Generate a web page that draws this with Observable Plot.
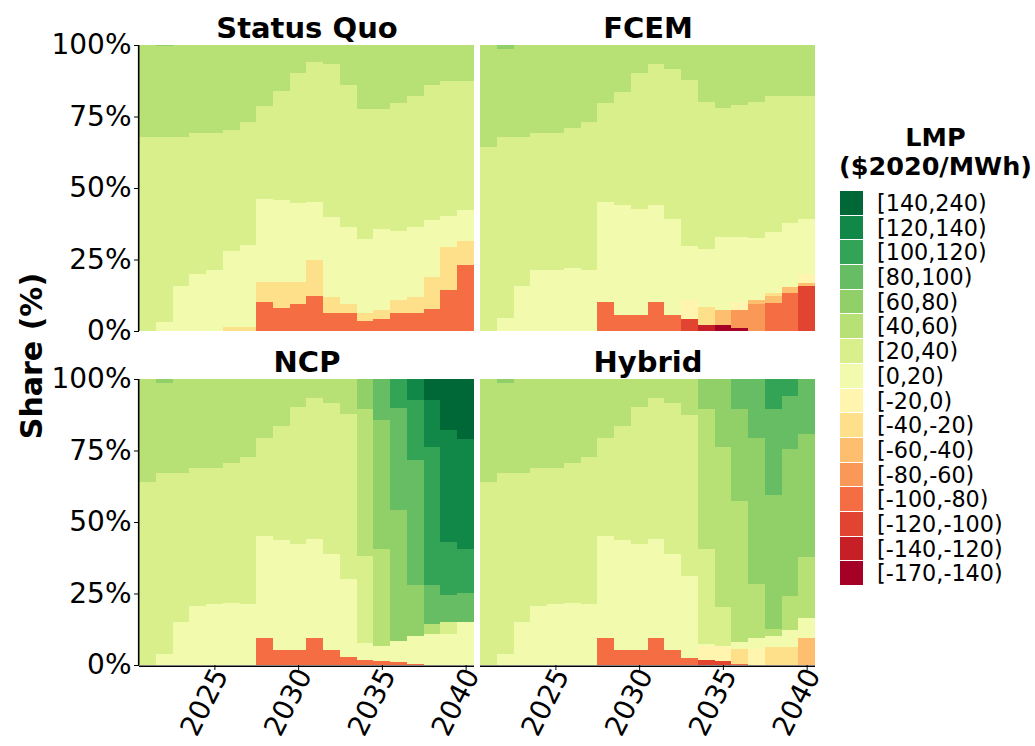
<!DOCTYPE html>
<html><head><meta charset="utf-8">
<script src="https://cdn.jsdelivr.net/npm/d3@7"></script>
<script src="https://cdn.jsdelivr.net/npm/@observablehq/plot@0.6"></script>
<style>
body{margin:0;background:#fff;font-family:"DejaVu Sans",sans-serif;}
#wrap{position:relative;width:1035px;height:746px;overflow:hidden;background:#fff;}
#chart{position:absolute;left:0;top:0;}
#ylab{position:absolute;left:31px;top:356px;transform:translate(-50%,-50%) rotate(-90deg);font-weight:bold;font-size:30px;white-space:nowrap;color:#000;}
#legend{position:absolute;left:834px;top:123px;width:203px;color:#000;}
#legend .lt{font-weight:bold;font-size:25.5px;line-height:29px;text-align:center;}
#items{position:absolute;left:6px;top:68px;}
.row{display:flex;align-items:center;height:24.7px;}
.sw{width:23px;height:23.7px;margin-bottom:1px;}
.lab{margin-left:14px;font-size:22.3px;line-height:24.7px;white-space:nowrap;}
</style></head>
<body>
<div id="wrap"><div id="chart"></div><div id="ylab">Share (%)</div>
<div id="legend"><div class="lt">LMP<br>($2020/MWh)</div><div id="items"></div></div></div>
<script>
const years = [2021,2022,2023,2024,2025,2026,2027,2028,2029,2030,2031,2032,2033,2034,2035,2036,2037,2038,2039,2040];
const bins = ["[-170,-140)","[-140,-120)","[-120,-100)","[-100,-80)","[-80,-60)","[-60,-40)","[-40,-20)","[-20,0)","[0,20)","[20,40)","[40,60)","[60,80)","[80,100)","[100,120)","[120,140)","[140,240)"];
const binColors = ["#a50026","#c62026","#e14430","#f46d43","#fa9857","#fdbf6f","#fee08b","#fff5ae","#f2faae","#d9ef8b","#b7e075","#91d069","#66bd63","#33a456","#118848","#006837"];
const scenarios = ["Status Quo","FCEM","NCP","Hybrid"];

const statusQuo = {
  "[60,80)":    [0,0.4,0,0,0,0,0,0,0,0,0,0,0,0,0,0,0,0,0,0],
  "[40,60)":    [32.2,31.8,32.2,30.9,30.9,29.7,27.0,21.4,16.2,9.8,6.0,6.7,14.0,22.3,22.3,20.2,17.9,14.0,12.6,12.6],
  "[20,40)":    [67.8,64.5,52.2,49.3,47.8,42.6,43.1,32.3,38.1,45.5,48.7,53.3,49.9,45.7,42.2,44.7,45.9,47.4,47.1,45.0],
  "[0,20)":     [0,3.3,15.6,19.8,21.3,26.4,28.5,29.3,28.4,27.4,20.2,28.1,26.9,25.8,28.3,24.4,24.3,19.9,11.0,11.0],
  "[-40,-20)":  [0,0,0,0,0,1.4,1.4,7.0,9.4,8.0,12.9,5.7,3.1,2.8,3.1,4.5,5.7,11.2,15.1,8.4],
  "[-100,-80)": [0,0,0,0,0,0,0,10.0,7.9,9.3,12.1,6.2,6.2,3.4,4.1,6.2,6.2,7.6,14.2,23.0]
};
const fcem = {
  "[60,80)":     [0,1.4,0,0,0,0,0,0,0,0,0,0,0,0,0,0,0,0,0,0],
  "[40,60)":     [35.7,30.8,32.2,30.8,30.8,29.1,27.0,20.2,16.4,9.8,6.6,8.4,12.3,20.2,22.3,21.0,19.9,17.9,17.9,17.9],
  "[20,40)":     [64.3,63.4,52.2,47.7,47.9,48.7,51.5,34.5,39.7,47.7,49.2,52.7,58.1,51.3,45.0,46.3,47.8,47.6,44.4,43.1],
  "[0,20)":      [0,4.4,15.6,21.5,21.3,22.2,21.5,35.2,38.3,36.9,34.2,33.3,18.7,20.1,25.5,22.8,21.6,21.4,22.2,19.2],
  "[-20,0)":     [0,0,0,0,0,0,0,0,0,0,0,0,6.7,0,0,2.7,0,0,0,3.1],
  "[-40,-20)":   [0,0,0,0,0,0,0,0,0,0,0,0,0,6.4,0,0,0,0.9,0,0],
  "[-60,-40)":   [0,0,0,0,0,0,0,0,0,0,0,0,0,0,5.2,0,1.2,2.4,2.3,1.0],
  "[-80,-60)":   [0,0,0,0,0,0,0,0,0,0,0,0,0,0,0,6.4,9.6,0,0,0],
  "[-100,-80)":  [0,0,0,0,0,0,0,10.0,5.7,5.7,10.0,5.7,0,0,0,0,0,9.9,13.2,0],
  "[-120,-100)": [0,0,0,0,0,0,0,0,0,0,0,0,4.2,0,0,0,0,0,0,15.7],
  "[-140,-120)": [0,0,0,0,0,0,0,0,0,0,0,0,0,2.1,0,0,0,0,0,0],
  "[-170,-140)": [0,0,0,0,0,0,0,0,0,0,0,0,0,0,2.1,0.9,0,0,0,0]
};
const ncp = {
  "[140,240)":  [0,0,0,0,0,0,0,0,0,0,0,0,0,0,0,0,0,7.3,18.0,20.9],
  "[120,140)":  [0,0,0,0,0,0,0,0,0,0,0,0,0,0,0,0,7.3,16.6,39.0,38.6],
  "[100,120)":  [0,0,0,0,0,0,0,0,0,0,0,0,0,0,0,10.4,21.0,48.3,18.7,15.2],
  "[80,100)":   [0,0,0,0,0,0,0,0,0,0,0,0,0,0,14.3,35.5,43.7,13.7,9.4,10.3],
  "[60,80)":    [0,1.5,0,0,0,0,0,0,0,0,0,0,0,10.4,45.3,45.8,17.7,0,0,0],
  "[40,60)":    [36.0,31.4,32.9,31.2,31.2,29.4,27.2,20.6,16.6,9.9,6.8,8.5,12.4,51.5,33.9,0,0,3.5,0,0],
  "[20,40)":    [64.0,63.2,51.9,48.0,47.6,48.9,51.6,34.4,39.7,47.9,49.3,52.8,57.4,30.3,0,0,0,0,4.3,0],
  "[0,20)":     [0,3.9,15.1,20.8,21.2,21.6,21.2,35.5,38.5,37.0,34.4,33.5,27.4,5.8,5.3,7.4,9.8,10.7,10.7,15.0],
  "[-100,-80)": [0,0,0,0,0,0,0,9.5,5.2,5.2,9.5,5.2,2.8,1.9,1.3,1.0,0.5,0,0,0]
};
const hybrid = {
  "[100,120)":   [0,0,0,0,0,0,0,0,0,0,0,0,0,0,0,0,0,10.4,5.7,0],
  "[80,100)":    [0,0,0,0,0,0,0,0,0,0,0,0,0,0,0,10.4,20.6,30.3,18.7,19.2],
  "[60,80)":     [0,1.5,0,0,0,0,0,0,0,0,0,0,0,10.4,23.8,32.1,51.2,46.6,51.2,43.2],
  "[40,60)":     [36.0,31.4,32.9,31.2,31.2,29.4,27.2,20.6,16.6,9.9,6.8,8.5,12.4,49.1,55.8,49.5,18.7,2.6,11.9,21.2],
  "[20,40)":     [64.0,63.2,51.9,48.0,47.6,48.9,51.6,34.4,39.7,47.9,49.3,52.8,56.3,32.9,13.8,0,0,0,0,0],
  "[0,20)":      [0,3.9,15.1,20.8,21.2,21.6,21.2,35.5,38.5,37.0,34.4,33.5,28.7,0.9,0,2.3,3.9,3.9,6.2,6.9],
  "[-20,0)":     [0,0,0,0,0,0,0,0,0,0,0,0,0,4.9,5.3,0,5.7,0,0,0],
  "[-40,-20)":   [0,0,0,0,0,0,0,0,0,0,0,0,0,0,0,5.1,0,6.2,6.2,0],
  "[-60,-40)":   [0,0,0,0,0,0,0,0,0,0,0,0,0,0,0,0,0,0,0,9.5],
  "[-100,-80)":  [0,0,0,0,0,0,0,9.5,5.2,5.2,9.5,5.2,2.5,0,0,0.5,0,0,0,0],
  "[-120,-100)": [0,0,0,0,0,0,0,0,0,0,0,0,0,1.7,1.3,0,0,0,0,0]
};

const panels = [
  {t: scenarios[0], data: statusQuo, c: 0, r: 0},
  {t: scenarios[1], data: fcem, c: 1, r: 0},
  {t: scenarios[2], data: ncp, c: 0, r: 1},
  {t: scenarios[3], data: hybrid, c: 1, r: 1}
];
const rows = [];
for (const p of panels) {
  for (const bin of bins) {
    const vals = p.data[bin];
    if (!vals) continue;
    vals.forEach((v, i) => { if (v > 0) rows.push({scenario: p.t, c: p.c, r: p.r, year: years[i], bin, share: v}); });
  }
}

const plot = Plot.plot({
  width: 830, height: 746,
  marginLeft: 138.3, marginRight: 15, marginTop: 45, marginBottom: 80.5,
  style: {fontFamily: "DejaVu Sans", fontSize: "28px", color: "#000", background: "white", overflow: "visible"},
  fx: {axis: null, domain: [0, 1], paddingInner: 0.0176, paddingOuter: 0},
  fy: {axis: null, domain: [0, 1], paddingInner: 0.145, paddingOuter: 0},
  x: {domain: [years[0] - 0.5, years[years.length - 1] + 0.5], ticks: [2025, 2030, 2035, 2040], tickFormat: "d", tickRotate: -63, tickSize: 5, tickPadding: 2, label: null},
  y: {domain: [0, 100], ticks: [0, 25, 50, 75, 100], tickFormat: d => d + "%", tickSize: 5, tickPadding: 3, label: null},
  color: {type: "ordinal", domain: bins, range: binColors},
  marks: [
    Plot.rectY(rows, {x1: d => d.year - 0.5, x2: d => d.year + 0.5, y: "share", fill: "bin", order: bins, fx: "c", fy: "r", shapeRendering: "crispEdges"}),
    Plot.ruleX(panels.filter(p => p.c === 0), {x: () => years[0] - 0.5, fx: "c", fy: "r", stroke: "#000", strokeWidth: 1.6, dx: -0.8}),
    Plot.ruleY(panels.filter(p => p.r === 1), {y: () => 0, fx: "c", fy: "r", stroke: "#000", strokeWidth: 1.6, dy: 0.8}),
    Plot.text(panels, {text: "t", fx: "c", fy: "r", frameAnchor: "top", lineAnchor: "bottom", dy: -8, fontSize: 29, fontWeight: "bold", fill: "#000"})
  ]
});
document.getElementById("chart").appendChild(plot);

// nudge rotated x tick labels slightly right, as in the reference
d3.select(plot).selectAll('g[aria-label="x-axis tick label"] text').each(function() {
  const t = this.getAttribute("transform") || "";
  this.setAttribute("transform", "translate(6,-2) " + t);
});

const cs = plot.scale("color");
const items = document.getElementById("items");
cs.domain.slice().reverse().forEach((b) => {
  const row = document.createElement("div"); row.className = "row";
  const sw = document.createElement("div"); sw.className = "sw"; sw.style.background = cs.apply(b);
  const lab = document.createElement("div"); lab.className = "lab"; lab.textContent = b;
  row.appendChild(sw); row.appendChild(lab); items.appendChild(row);
});
</script>
</body></html>
